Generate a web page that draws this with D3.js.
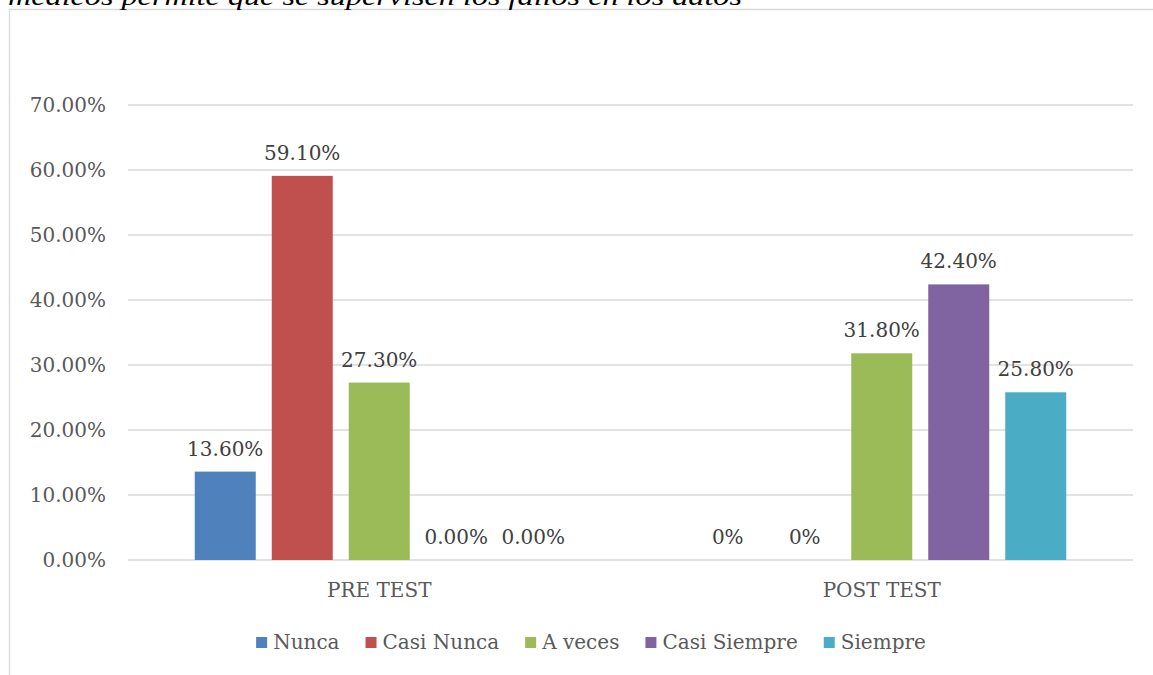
<!DOCTYPE html>
<html>
<head>
<meta charset="utf-8">
<script src="https://cdn.jsdelivr.net/npm/d3@7"></script>
<style>
  html, body { margin: 0; padding: 0; background: #fff; overflow: hidden; }
  svg { display: block; }
</style>
</head>
<body>
<svg id="chart" width="1153" height="675"></svg>
<script>
// ---- data ----
const titleText = "médicos permite que se supervisen los fallos en los datos";
const categories = ["PRE TEST", "POST TEST"];
const seriesNames = ["Nunca", "Casi Nunca", "A veces", "Casi Siempre", "Siempre"];
const seriesColors = ["#4F81BD", "#C0504D", "#9BBB59", "#8064A2", "#4BACC6"];
const preValues  = [0.136, 0.591, 0.273, 0.0, 0.0];
const postValues = [0.0, 0.0, 0.318, 0.424, 0.258];
const zeroLabels = ["0.00%", "0%"];
const yTicks = [0, 0.1, 0.2, 0.3, 0.4, 0.5, 0.6, 0.7];

const valuesByCategory = [preValues, postValues];

const svg = d3.select("#chart");
const font = "'DejaVu Serif', serif";

// chart border
svg.append("path")
  .attr("d", "M9.5,675 L9.5,9.5 L1153,9.5")
  .attr("fill", "none").attr("stroke", "#d9d9d9").attr("stroke-width", 1.3);

// clipped title (cut off at the top edge, as in the reference)
svg.append("text")
  .attr("x", 8).attr("y", 5)
  .attr("font-family", "'Liberation Serif', serif")
  .attr("font-style", "italic")
  .attr("font-size", 25)
  .attr("fill", "#000")
  .attr("textLength", 734)
  .attr("lengthAdjust", "spacingAndGlyphs")
  .text(titleText);

const plot = { left: 128, right: 1133, top: 105, bottom: 560 };

const y = d3.scaleLinear().domain([0, 0.7]).range([plot.bottom, plot.top]);
const x0 = d3.scaleBand().domain(categories).range([plot.left, plot.right]).paddingInner(0).paddingOuter(0);
const barStep = 77;
const groupW = barStep * seriesNames.length;
const x1 = d3.scaleBand().domain(seriesNames).range([0, groupW]).paddingInner(16 / 77).paddingOuter(8 / 77);

// gridlines
svg.append("g").selectAll("line").data(yTicks).join("line")
  .attr("x1", plot.left).attr("x2", plot.right)
  .attr("y1", d => y(d)).attr("y2", d => y(d))
  .attr("stroke", "#d9d9d9").attr("stroke-width", 1.3);

// y axis labels
const yAxis = d3.axisLeft(y).tickValues(yTicks).tickFormat(d3.format(".2%")).tickSize(0).tickPadding(0);
const yg = svg.append("g").attr("transform", `translate(106,0)`).call(yAxis);
yg.select(".domain").remove();
yg.selectAll("text")
  .attr("font-family", font).attr("font-size", 20).attr("fill", "#595959")
  .attr("dy", "0.34em");

// bars
const groups = svg.append("g").selectAll("g").data(categories).join("g")
  .attr("transform", c => `translate(${x0(c) + x0.bandwidth() / 2 - groupW / 2},0)`);

groups.each(function(c, ci) {
  const g = d3.select(this);
  const vals = valuesByCategory[ci].map((v, i) => ({ name: seriesNames[i], v, color: seriesColors[i] }));
  g.selectAll("rect").data(vals.filter(d => d.v > 0)).join("rect")
    .attr("x", d => x1(d.name)).attr("width", x1.bandwidth())
    .attr("y", d => y(d.v)).attr("height", d => y(0) - y(d.v))
    .attr("fill", d => d.color);
  g.selectAll("text").data(vals).join("text")
    .attr("x", d => x1(d.name) + x1.bandwidth() / 2)
    .attr("y", d => y(d.v) - 16)
    .attr("text-anchor", "middle")
    .attr("font-family", font).attr("font-size", 20).attr("fill", "#404040")
    .text(d => d.v === 0 ? zeroLabels[ci] : d3.format(".2%")(d.v));
});

// category axis labels
const xAxis = d3.axisBottom(x0).tickSize(0).tickPadding(0);
const xg = svg.append("g").attr("transform", `translate(0,${plot.bottom})`).call(xAxis);
xg.select(".domain").remove();
xg.selectAll("text")
  .attr("font-family", font).attr("font-size", 20).attr("fill", "#595959")
  .attr("y", 37).attr("dy", 0);

// legend
const legend = svg.append("g");
let lx = 0;
const gapAfter = 26;
const items = legend.selectAll("g").data(seriesNames).join("g");
items.append("rect").attr("width", 11).attr("height", 11).attr("y", -12)
  .attr("fill", (d, i) => seriesColors[i]);
items.append("text").attr("x", 17).attr("y", 0)
  .attr("font-family", font).attr("font-size", 20).attr("fill", "#595959")
  .text(d => d);
items.each(function() {
  const g = d3.select(this);
  g.attr("transform", `translate(${lx},0)`);
  const w = g.select("text").node().getComputedTextLength();
  lx += 17 + w + gapAfter;
});
const legendW = lx - gapAfter;
legend.attr("transform", `translate(${591 - legendW / 2},649)`);
</script>
</body>
</html>
